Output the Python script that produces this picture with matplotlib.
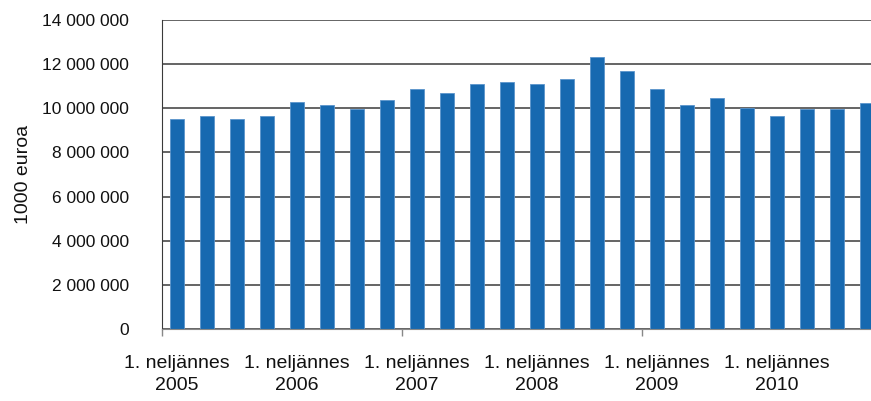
import matplotlib

matplotlib.use("Agg")
import matplotlib.pyplot as plt
import numpy as np
from matplotlib.ticker import FuncFormatter

plt.rcParams["font.family"] = ["Liberation Sans", "DejaVu Sans"]

# quarterly values 2005 Q1 .. 2010 Q4, 1000 euro
values = [
    9500000, 9640000, 9500000, 9640000,
    10300000, 10150000, 9970000, 10360000,
    10870000, 10680000, 11100000, 11180000,
    11090000, 11310000, 12340000, 11680000,
    10870000, 10150000, 10450000, 10000000,
    9640000, 9970000, 9970000, 10230000,
]
years = ["2005", "2006", "2007", "2008", "2009", "2010"]
quarter_label = "1. neljännes"
y_ticks = [0, 2000000, 4000000, 6000000, 8000000, 10000000, 12000000, 14000000]

W, H = 871, 401
fig = plt.figure(figsize=(W / 100, H / 100), dpi=100)
ax = fig.add_axes([162 / W, (H - 329) / H, 720 / W, 309 / H])

x = np.arange(len(values))
ax.bar(x, values, width=0.49, color="#1769b0", edgecolor="#5b95cc", linewidth=0.6, zorder=3)

ax.set_xlim(-0.5, len(values) - 0.5)
ax.set_ylim(0, 14000000)
ax.set_yticks(y_ticks)
ax.yaxis.set_major_formatter(FuncFormatter(lambda v, p: f"{int(v):,}".replace(",", " ")))
ax.grid(axis="y", color="#3a3a3a", linewidth=1.1, zorder=1)
ax.tick_params(axis="y", length=0, pad=24, labelsize=12.5, labelcolor="#111111")

# tick marks at every second year boundary, labels under first quarter of each year
ax.set_xticks(np.arange(-0.5, len(values), 8))
ax.set_xticklabels([])
ax.tick_params(axis="x", which="major", length=5, color="#888888", width=1)
ax.set_xticks(np.arange(0, len(values), 4), minor=True)
ax.set_xticklabels([f"{quarter_label}\n{yr}" for yr in years], minor=True)
ax.tick_params(axis="x", which="minor", length=0, pad=19, labelsize=14, labelcolor="#111111")
for lbl in ax.get_xticklabels(minor=True):
    lbl.set_linespacing(1.35)

ax.spines["top"].set_visible(False)
ax.spines["right"].set_visible(False)
ax.spines["left"].set_color("#3a3a3a")
ax.spines["bottom"].set_color("#888888")
ax.spines["bottom"].set_zorder(4)

ax.set_ylabel("1000 euroa", fontsize=14, color="#111111")
ax.yaxis.set_label_coords(-130 / 720, 0.5)

fig.savefig("out.png", dpi=100)
